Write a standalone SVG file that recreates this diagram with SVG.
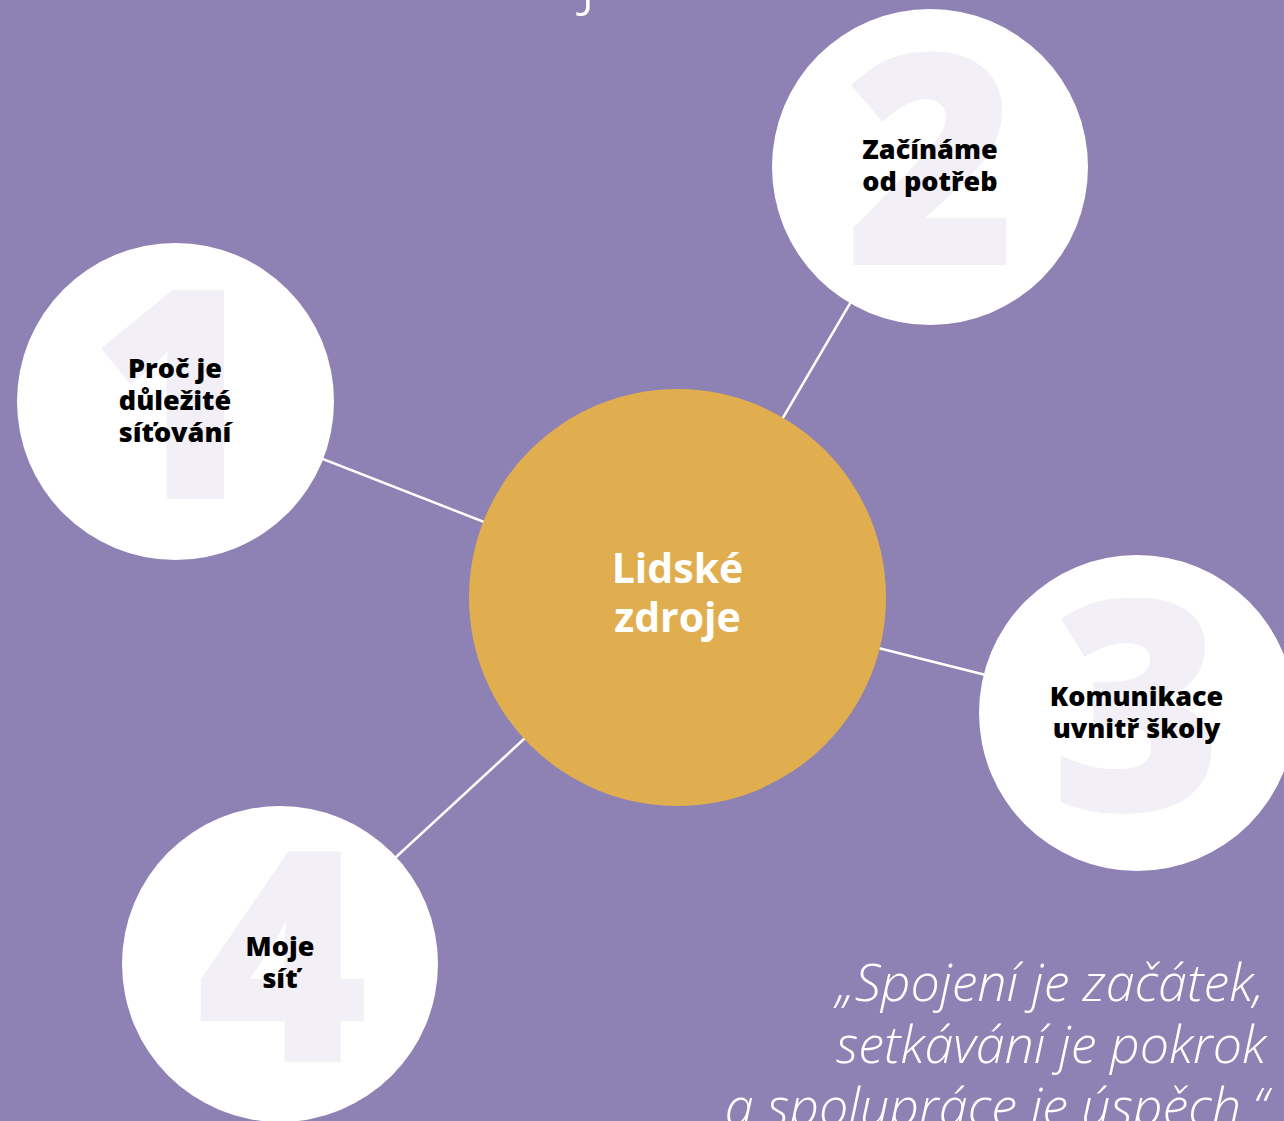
<svg xmlns="http://www.w3.org/2000/svg" width="1284" height="1121" viewBox="0 0 1284 1121">
  <style>
    .bg { fill: #8E81B3; }
    .node { fill: #FFFFFF; }
    .hub { fill: #E1AE4F; }
    .num { fill: #F2F0F6; font-family: "Open Sans", "Liberation Sans", sans-serif; font-weight: 800; text-anchor: middle; }
    .lbl { fill: #000000; font-family: "Open Sans", "Liberation Sans", sans-serif; font-weight: 800; font-size: 27px; text-anchor: middle; }
    .hubtxt { fill: #FFFFFF; font-family: "Open Sans", "Liberation Sans", sans-serif; font-weight: 700; font-size: 41px; text-anchor: middle; }
    .quote { fill: #FFFFFF; font-family: "Open Sans", "Liberation Sans", sans-serif; font-weight: 300; font-style: italic; font-size: 52px; text-anchor: end; }
    .link { stroke: #FFFFFF; stroke-width: 2.5; fill: none; }
  </style>
  <rect class="bg" x="0" y="0" width="1284" height="1121"/>
  <text x="580" y="0" fill="#FFFFFF" font-family="'Open Sans', 'Liberation Sans', sans-serif" font-weight="300" font-size="70">j</text>
  <g id="connectors">
    <line class="link" x1="677.5" y1="597.5" x2="175.5" y2="401.5"/>
    <line class="link" x1="677.5" y1="597.5" x2="930" y2="167"/>
    <line class="link" x1="677.5" y1="597.5" x2="1137" y2="713"/>
    <line class="link" x1="677.5" y1="597.5" x2="280" y2="964"/>
  </g>
  <g id="node1">
    <circle class="node" cx="175.5" cy="401.5" r="158.5"/>
    <text class="num" x="175" y="499" font-size="293">1</text>
    <text class="lbl" x="175" y="378">Proč je</text>
    <text class="lbl" x="175" y="410">důležité</text>
    <text class="lbl" x="175" y="442">síťování</text>
  </g>
  <g id="node2">
    <circle class="node" cx="930" cy="167" r="158"/>
    <text class="num" x="931" y="265" font-size="295">2</text>
    <text class="lbl" x="930" y="159">Začínáme</text>
    <text class="lbl" x="930" y="191">od potřeb</text>
  </g>
  <g id="node3">
    <circle class="node" cx="1137" cy="713" r="158"/>
    <text class="num" x="1137" y="811" font-size="295">3</text>
    <text class="lbl" x="1136.5" y="706">Komunikace</text>
    <text class="lbl" x="1136.5" y="738">uvnitř školy</text>
  </g>
  <g id="node4">
    <circle class="node" cx="280" cy="964" r="158"/>
    <text class="num" x="282" y="1062" font-size="295">4</text>
    <text class="lbl" x="280" y="956">Moje</text>
    <text class="lbl" x="280" y="988">síť</text>
  </g>
  <g id="hub">
    <circle class="hub" cx="677.5" cy="597.5" r="208.5"/>
    <text class="hubtxt" x="677.5" y="583">Lidské</text>
    <text class="hubtxt" x="677.5" y="632">zdroje</text>
  </g>
  <g id="quote">
    <text class="quote" x="1264" y="1001">„Spojení je začátek,</text>
    <text class="quote" x="1266" y="1063">setkávání je pokrok</text>
    <text class="quote" x="1268" y="1125">a spolupráce je úspěch.“</text>
  </g>
</svg>
